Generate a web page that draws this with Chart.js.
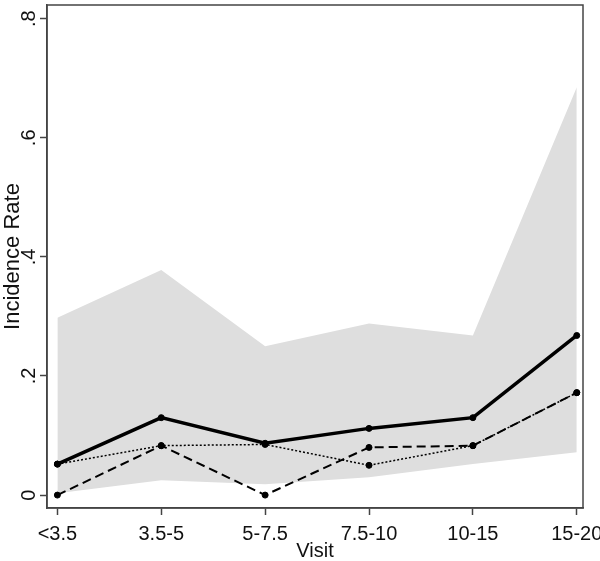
<!DOCTYPE html>
<html>
<head>
<meta charset="utf-8">
<script src="https://cdn.jsdelivr.net/npm/chart.js@4.4.1/dist/chart.umd.min.js"></script>
<style>
  html, body { margin: 0; padding: 0; background: #fff; }
  #wrap { width: 600px; height: 561px; }
</style>
</head>
<body>
<div id="wrap"><canvas id="chart"></canvas></div>
<script>
// categories and series
const visits = ["<3.5", "3.5-5", "5-7.5", "7.5-10", "10-15", "15-20"];
const solidRate = [0.052, 0.13, 0.087, 0.112, 0.13, 0.268];
const dashedRate = [0, 0.083, 0, 0.08, 0.083, 0.172];
const dottedRate = [0.052, 0.083, 0.085, 0.05, 0.083, 0.172];
const bandUpper = [0.298, 0.378, 0.25, 0.288, 0.268, 0.685];
const bandLower = [0.003, 0.025, 0.018, 0.03, 0.052, 0.072];
const yTicks = [0, 0.2, 0.4, 0.6, 0.8];
const yTickLabels = ["0", ".2", ".4", ".6", ".8"];

const toPoints = (arr) => arr.map((v, i) => ({ x: i, y: v }));
const FONT = "20px 'Liberation Sans', Arial, sans-serif";

// box round the plot + all axis text (stata style, rotated y labels)
const frameBox = {
  id: "frameBox",
  afterDraw(chart) {
    const a = chart.chartArea;
    const ctx = chart.ctx;
    const xs = chart.scales.x;
    const ys = chart.scales.y;
    ctx.save();
    ctx.strokeStyle = "#444";
    ctx.lineWidth = 1.5;
    ctx.strokeRect(a.left, a.top, a.right - a.left, a.bottom - a.top);

    ctx.fillStyle = "#111";
    ctx.font = FONT;
    ctx.textAlign = "center";
    ctx.textBaseline = "middle";
    // x tick labels
    visits.forEach((lab, i) => {
      ctx.fillText(lab, xs.getPixelForValue(i), 534);
    });
    // x title
    ctx.fillText("Visit", (a.left + a.right) / 2, 551);
    // y tick labels, rotated
    yTickLabels.forEach((lab, i) => {
      ctx.save();
      ctx.translate(29, ys.getPixelForValue(yTicks[i]));
      ctx.rotate(-Math.PI / 2);
      ctx.fillText(lab, 0, 0);
      ctx.restore();
    });
    // y title
    ctx.save();
    ctx.translate(13, (a.top + a.bottom) / 2);
    ctx.rotate(-Math.PI / 2);
    ctx.font = "22px 'Liberation Sans', Arial, sans-serif";
    ctx.fillText("Incidence Rate", 0, 0);
    ctx.restore();
    ctx.restore();
  },
};

const lineStyle = {
  borderColor: "#000",
  pointBackgroundColor: "#000",
  pointBorderColor: "#000",
  pointRadius: 3,
  pointBorderWidth: 1,
  tension: 0,
  fill: false,
};

const config = {
  type: "line",
  data: {
    datasets: [
      { data: toPoints(bandUpper), borderWidth: 0, pointRadius: 0, backgroundColor: "#dedede", fill: "+1", order: 5 },
      { data: toPoints(bandLower), borderWidth: 0, pointRadius: 0, backgroundColor: "#dedede", fill: false, order: 5 },
      Object.assign({}, lineStyle, { data: toPoints(dottedRate), borderWidth: 1.5, borderDash: [2, 2], order: 3 }),
      Object.assign({}, lineStyle, { data: toPoints(dashedRate), borderWidth: 2, borderDash: [9, 5], order: 2 }),
      Object.assign({}, lineStyle, { data: toPoints(solidRate), borderWidth: 3.5, order: 1 }),
    ],
  },
  options: {
    responsive: true,
    maintainAspectRatio: false,
    animation: false,
    layout: { padding: { top: 1, right: 17, left: 0, bottom: 0 } },
    plugins: {
      legend: { display: false },
      tooltip: { enabled: false },
    },
    scales: {
      x: {
        type: "linear",
        min: -0.1,
        max: 5.06,
        afterBuildTicks: (axis) => {
          axis.ticks = visits.map((v, i) => ({ value: i }));
        },
        afterFit: (axis) => {
          axis.height = 53;
        },
        grid: { display: true, drawOnChartArea: false, tickLength: 7, color: "#444", tickWidth: 1.5 },
        border: { display: true, color: "#444", width: 1.5 },
        ticks: { display: false },
      },
      y: {
        min: -0.0217,
        max: 0.823,
        afterBuildTicks: (axis) => {
          axis.ticks = yTicks.map((v) => ({ value: v }));
        },
        afterFit: (axis) => {
          axis.width = 47;
        },
        grid: { display: true, drawOnChartArea: false, tickLength: 7, color: "#444", tickWidth: 1.5 },
        border: { display: true, color: "#444", width: 1.5 },
        ticks: { display: false },
      },
    },
  },
  plugins: [frameBox],
};

let rateChart = new Chart(document.getElementById("chart"), config);
</script>
</body>
</html>
